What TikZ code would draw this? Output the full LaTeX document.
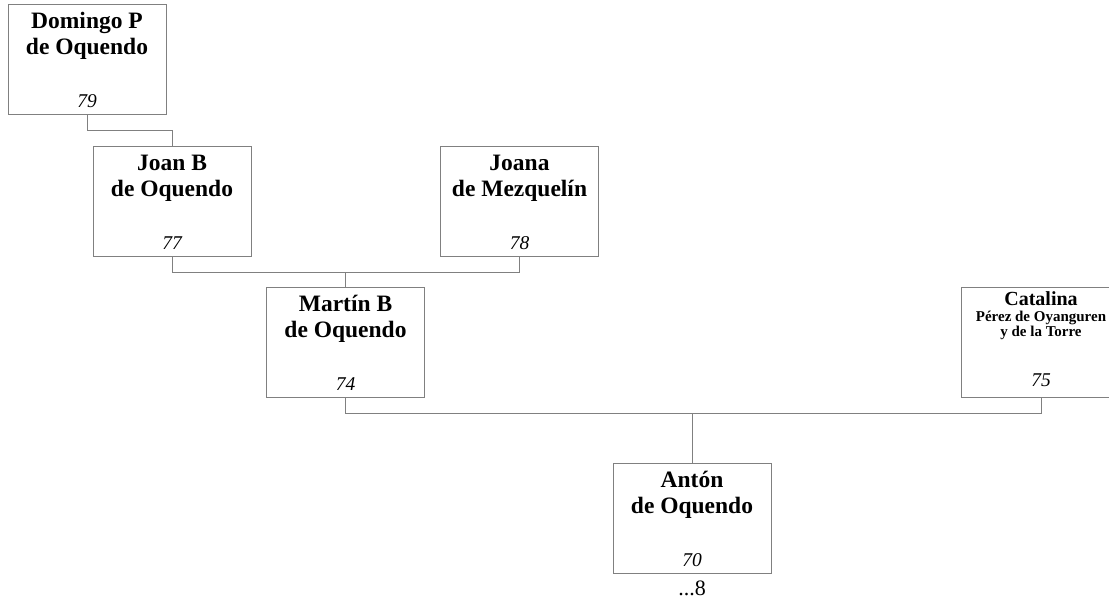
\documentclass[tikz,border=0pt]{standalone}
\usepackage{fontspec}
\setmainfont{Liberation Serif}
\definecolor{cline}{RGB}{128,128,128}
\tikzset{
  pbox/.style={draw=cline, line width=1pt, minimum width=158pt, minimum height=110pt, inner sep=0pt},
  pname/.style={font=\fontsize{23.5}{26}\selectfont\bfseries, anchor=base, inner sep=0pt},
  psmall/.style={font=\fontsize{15}{17}\selectfont\bfseries, anchor=base, inner sep=0pt},
  pnum/.style={font=\fontsize{19.5}{22}\selectfont\itshape, anchor=base, inner sep=0pt},
  link/.style={draw=cline, line width=1pt},
}

\begin{document}
\begin{tikzpicture}[x=1pt,y=-1pt]
\useasboundingbox (0,0) rectangle (1109,603);

% boxes
\node[pbox] (domingo) at (87,59) {};
\node[pbox] (joan) at (172,201) {};
\node[pbox] (joana) at (519.5,201) {};
\node[pbox] (martin) at (345.5,342) {};
\node[pbox, minimum width=160pt] (catalina) at (1041,342) {};
\node[pbox] (anton) at (692,518) {};

% names
\node[pname] (domingo-a) at ([yshift=-25pt]domingo.north) {Domingo P};
\node[pname] (domingo-b) at ([yshift=-51pt]domingo.north) {de Oquendo};
\node[pnum] (domingo-no) at ([yshift=-104pt]domingo.north) {79};

\node[pname] (joan-a) at ([yshift=-25pt]joan.north) {Joan B};
\node[pname] (joan-b) at ([yshift=-51pt]joan.north) {de Oquendo};
\node[pnum] (joan-no) at ([yshift=-104pt]joan.north) {77};

\node[pname] (joana-a) at ([yshift=-25pt]joana.north) {Joana};
\node[pname] (joana-b) at ([yshift=-51pt]joana.north) {de Mezquelín};
\node[pnum] (joana-no) at ([yshift=-104pt]joana.north) {78};

\node[pname] (martin-a) at ([yshift=-25pt]martin.north) {Martín B};
\node[pname] (martin-b) at ([yshift=-51pt]martin.north) {de Oquendo};
\node[pnum] (martin-no) at ([yshift=-104pt]martin.north) {74};

\node[psmall, font=\fontsize{20}{22}\selectfont\bfseries] (catalina-a) at ([yshift=-19pt]catalina.north) {Catalina};
\node[psmall] (catalina-b) at ([yshift=-35pt]catalina.north) {Pérez de Oyanguren};
\node[psmall] (catalina-c) at ([yshift=-50pt]catalina.north) {y de la Torre};
\node[pnum] (catalina-no) at ([yshift=-100pt]catalina.north) {75};

\node[pname] (anton-a) at ([yshift=-25pt]anton.north) {Antón};
\node[pname] (anton-b) at ([yshift=-51pt]anton.north) {de Oquendo};
\node[pnum] (anton-no) at ([yshift=-104pt]anton.north) {70};
\node[font=\fontsize{22}{24}\selectfont, anchor=base, inner sep=0pt] (anton-gen) at ([yshift=-22pt]anton.south) {...8};

% lines
\draw[link] (domingo.south) -- ++(0,16) -| (joan.north);
\draw[link] (joan.south) -- ++(0,16) coordinate (jj) -| (joana.south);
\draw[link] (martin.north) -- (martin.north |- jj);
\draw[link] (martin.south) -- ++(0,16) coordinate (mc) -| (catalina.south);
\draw[link] (anton.north) -- (anton.north |- mc);

\end{tikzpicture}
\end{document}
